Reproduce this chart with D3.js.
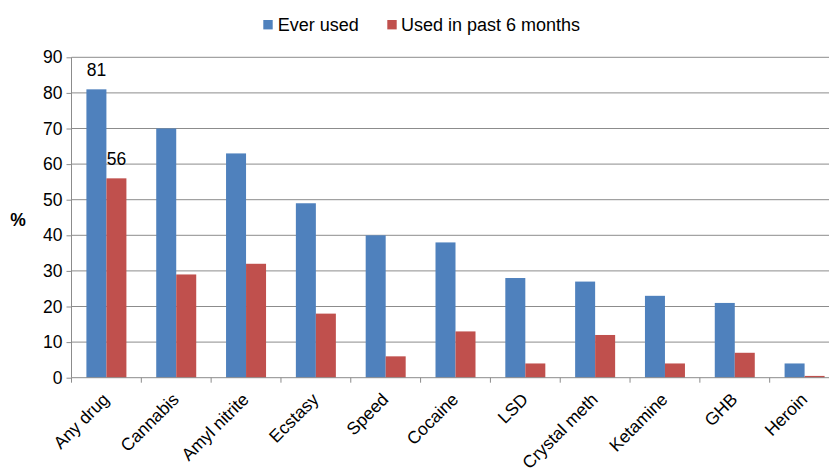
<!DOCTYPE html>
<html>
<head>
<meta charset="utf-8">
<script src="https://cdn.jsdelivr.net/npm/d3@7"></script>
<style>
  body { margin: 0; background: #fff; }
  svg { display: block; font-family: "Liberation Sans", Arial, sans-serif; }
</style>
</head>
<body>
<svg width="829" height="471"></svg>
<script>
const categories = ["Any drug", "Cannabis", "Amyl nitrite", "Ecstasy", "Speed", "Cocaine",
  "LSD", "Crystal meth", "Ketamine", "GHB", "Heroin"];
const everUsed = [81, 70, 63, 49, 40, 38, 28, 27, 23, 21, 4];
const pastSixMonths = [56, 29, 32, 18, 6, 13, 4, 12, 4, 7, 0.5];
const seriesNames = ["Ever used", "Used in past 6 months"];
const seriesColors = ["#4F81BD", "#C0504D"];
const yTicks = [0, 10, 20, 30, 40, 50, 60, 70, 80, 90];
// labels shown on top of the first category only
const shownLabels = [[0, 0], [1, 0]];

const svg = d3.select("svg");
const plotLeft = 71.5, plotRight = 839.5, plotTop = 57.3, plotBottom = 377.7;

const x = d3.scaleBand().domain(categories).range([plotLeft, plotRight]).paddingInner(0).paddingOuter(0);
const y = d3.scaleLinear().domain([0, 90]).range([plotBottom, plotTop]);
const barW = 20;

// gridlines
svg.append("g")
  .selectAll("line")
  .data(yTicks.slice(1))
  .enter().append("line")
  .attr("x1", plotLeft).attr("x2", plotRight)
  .attr("y1", d => y(d)).attr("y2", d => y(d))
  .attr("stroke", "#8c8c8c").attr("stroke-width", 1);

const series = [everUsed, pastSixMonths];

series.forEach(function(vals, s) {
  svg.append("g")
    .selectAll("rect")
    .data(vals)
    .enter().append("rect")
    .attr("x", (d, i) => x(categories[i]) + x.bandwidth() / 2 - barW + s * barW)
    .attr("y", d => y(d))
    .attr("width", barW)
    .attr("height", d => plotBottom - y(d))
    .attr("fill", seriesColors[s]);
});

// data labels
shownLabels.forEach(function(p) {
  const s = p[0], i = p[1];
  const v = series[s][i];
  svg.append("text")
    .attr("x", x(categories[i]) + x.bandwidth() / 2 - barW + s * barW + barW / 2)
    .attr("y", y(v) - 13)
    .attr("text-anchor", "middle")
    .attr("font-size", "17.5px")
    .attr("fill", "#000")
    .text(v);
});

// y axis
const yAxis = svg.append("g")
  .attr("transform", "translate(" + plotLeft + ",0)")
  .call(d3.axisLeft(y).tickValues(yTicks).tickSize(5).tickPadding(4));
yAxis.select(".domain").attr("stroke", "#8c8c8c").attr("d", "M0," + plotTop + "V" + plotBottom);
yAxis.selectAll(".tick line").attr("stroke", "#8c8c8c");
yAxis.selectAll("text").attr("font-size", "17.5px").attr("fill", "#000").attr("font-family", null);

// x axis
const xAxis = svg.append("g")
  .attr("transform", "translate(0," + plotBottom + ")")
  .call(d3.axisBottom(x).tickSize(0).tickFormat(""));
xAxis.select(".domain").attr("stroke", "#8c8c8c").attr("d", "M" + plotLeft + ",0H" + plotRight);
svg.append("g")
  .selectAll("line")
  .data(d3.range(categories.length + 1))
  .enter().append("line")
  .attr("x1", i => plotLeft + i * x.step()).attr("x2", i => plotLeft + i * x.step())
  .attr("y1", plotBottom).attr("y2", plotBottom + 5)
  .attr("stroke", "#8c8c8c");

svg.append("g")
  .selectAll("text")
  .data(categories)
  .enter().append("text")
  .attr("transform", d => "translate(" + (x(d) + x.bandwidth() / 2 - 5) + "," + (plotBottom + 14) + ") rotate(-45)")
  .attr("text-anchor", "end")
  .attr("dy", "0.71em")
  .attr("font-size", "17.5px")
  .attr("fill", "#000")
  .text(d => d);

// y label
svg.append("text")
  .attr("x", 18).attr("y", 226)
  .attr("text-anchor", "middle")
  .attr("font-size", "17.5px")
  .attr("font-weight", "bold")
  .text("%");

// legend
const legendItems = [{x: 263.3, tx: 277.7}, {x: 387.3, tx: 401}];
legendItems.forEach(function(l, i) {
  svg.append("rect")
    .attr("x", l.x).attr("y", 20).attr("width", 9.4).attr("height", 9.4)
    .attr("fill", seriesColors[i]);
  svg.append("text")
    .attr("x", l.tx).attr("y", 31)
    .attr("font-size", "18px")
    .attr("fill", "#000")
    .text(seriesNames[i]);
});
</script>
</body>
</html>
